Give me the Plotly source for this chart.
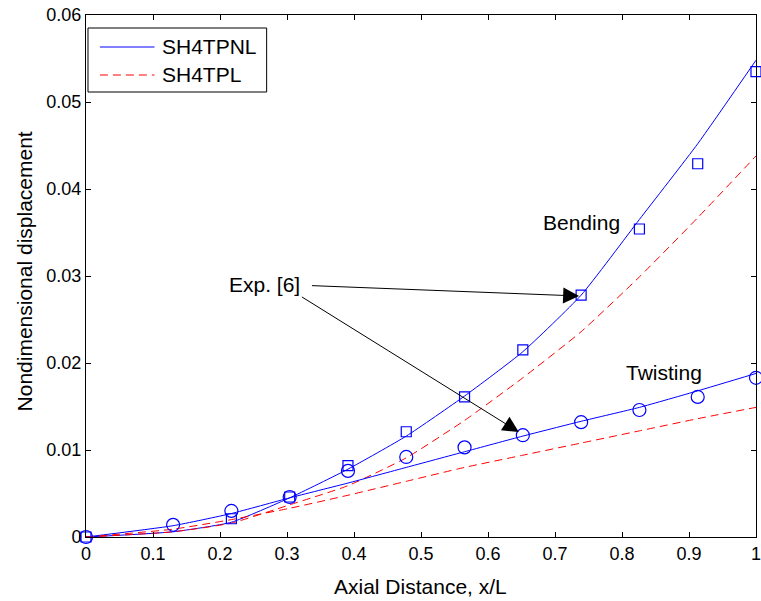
import plotly.graph_objects as go

# ---------------- data ----------------
x_line = [0, 0.13, 0.217, 0.304, 0.391, 0.478, 0.565, 0.652, 0.739, 0.826, 0.913, 1.0]
bend_nl = [0, 0.0006, 0.0017, 0.0045, 0.0078, 0.0116, 0.0162, 0.0213, 0.0278, 0.0365, 0.0452, 0.0548]
bend_l = [0, 0.0006, 0.0016, 0.0037, 0.0059, 0.0091, 0.0134, 0.0183, 0.0236, 0.0299, 0.0367, 0.0438]
twist_nl = [0, 0.0013, 0.0027, 0.0045, 0.0062, 0.0080, 0.0098, 0.0116, 0.0133, 0.0149, 0.0168, 0.0188]
twist_l = [0, 0.0009, 0.0020, 0.0033, 0.0048, 0.0064, 0.0080, 0.0094, 0.0108, 0.0122, 0.0136, 0.0149]

x_sq = [0, 0.217, 0.304, 0.391, 0.478, 0.565, 0.652, 0.739, 0.826, 0.913, 1.0]
exp_bend = [0, 0.0021, 0.0046, 0.0082, 0.0121, 0.0161, 0.0215, 0.0278, 0.0354, 0.0429, 0.0535]
x_ci = [0, 0.13, 0.217, 0.304, 0.391, 0.478, 0.565, 0.652, 0.739, 0.826, 0.913, 1.0]
exp_twist = [0, 0.0014, 0.0030, 0.0046, 0.0076, 0.0092, 0.0103, 0.0117, 0.0132, 0.0146, 0.0161, 0.0183]

x_ticks = [0, 0.1, 0.2, 0.3, 0.4, 0.5, 0.6, 0.7, 0.8, 0.9, 1]
x_tick_text = ["0", "0.1", "0.2", "0.3", "0.4", "0.5", "0.6", "0.7", "0.8", "0.9", "1"]
y_ticks = [0, 0.01, 0.02, 0.03, 0.04, 0.05, 0.06]
y_tick_text = ["0", "0.01", "0.02", "0.03", "0.04", "0.05", "0.06"]

legend_names = ["SH4TPNL", "SH4TPL"]

BLUE = "rgb(0,0,255)"
RED = "rgb(255,0,0)"
FONT = "Liberation Sans, Arial, sans-serif"
DASH = "8px,5px"
SMOOTH = dict(shape="spline", smoothing=0.5)

fig = go.Figure()
fig.add_trace(go.Scatter(x=x_line, y=bend_nl, mode="lines", line=dict(color=BLUE, width=1, **SMOOTH), showlegend=False))
fig.add_trace(go.Scatter(x=x_line, y=bend_l, mode="lines", line=dict(color=RED, width=1, dash=DASH, **SMOOTH), showlegend=False))
fig.add_trace(go.Scatter(x=x_line, y=twist_nl, mode="lines", line=dict(color=BLUE, width=1, **SMOOTH), showlegend=False))
fig.add_trace(go.Scatter(x=x_line, y=twist_l, mode="lines", line=dict(color=RED, width=1, dash=DASH, **SMOOTH), showlegend=False))
fig.add_trace(go.Scatter(x=x_sq, y=exp_bend, mode="markers",
                         marker=dict(symbol="square-open", size=10, color=BLUE, line=dict(width=1.2, color=BLUE)),
                         showlegend=False, cliponaxis=False))
fig.add_trace(go.Scatter(x=x_ci, y=exp_twist, mode="markers",
                         marker=dict(symbol="circle-open", size=13, color=BLUE, line=dict(width=1.2, color=BLUE)),
                         showlegend=False, cliponaxis=False))

W, H = 761, 601
L, R, T, B = 86, 0, 15, 64
PW, PH = W - L - R, H - T - B
X0, Y0 = L, H - B  # pixel of plot origin


def px(xp):
    return (xp - X0) / PW


def py(yp):
    return (Y0 - yp) / PH


# manual legend
shapes = [
    dict(type="rect", xref="paper", yref="paper", x0=px(88), x1=px(268), y0=py(92), y1=py(28),
         line=dict(color="black", width=1), fillcolor="white", layer="above"),
    dict(type="line", xref="paper", yref="paper", x0=px(100), x1=px(155), y0=py(47), y1=py(47),
         line=dict(color=BLUE, width=1), layer="above"),
    dict(type="line", xref="paper", yref="paper", x0=px(100), x1=px(155), y0=py(75), y1=py(75),
         line=dict(color=RED, width=1, dash=DASH), layer="above"),
]

annotations = [
    dict(xref="paper", yref="paper", x=px(161), y=py(47), text=legend_names[0], showarrow=False,
         xanchor="left", yanchor="middle", font=dict(size=21, color="black", family=FONT)),
    dict(xref="paper", yref="paper", x=px(161), y=py(75), text=legend_names[1], showarrow=False,
         xanchor="left", yanchor="middle", font=dict(size=21, color="black", family=FONT)),
    dict(x=0.739, y=0.0361, text="Bending", showarrow=False, xanchor="center", yanchor="middle",
         font=dict(size=21, color="black", family=FONT)),
    dict(x=0.862, y=0.0189, text="Twisting", showarrow=False, xanchor="center", yanchor="middle",
         font=dict(size=21, color="black", family=FONT)),
    dict(x=0.2667, y=0.0290, text="Exp. [6]", showarrow=False, xanchor="center", yanchor="middle",
         font=dict(size=21, color="black", family=FONT)),
    dict(x=0.736, y=0.0277, ax=0.335, ay=0.0289, axref="x", ayref="y", text="", showarrow=True,
         arrowhead=2, arrowsize=3.2, arrowwidth=1, arrowcolor="black", standoff=0),
    dict(x=0.646, y=0.01207, ax=0.320, ay=0.0277, axref="x", ayref="y", text="", showarrow=True,
         arrowhead=2, arrowsize=3.2, arrowwidth=1, arrowcolor="black", standoff=0),
    # axis titles
    dict(xref="paper", yref="paper", x=px(423), y=py(586), text="Axial Distance, x/L", showarrow=False,
         xanchor="center", yanchor="middle", font=dict(size=21, color="black", family=FONT)),
    dict(xref="paper", yref="paper", x=px(24), y=py(271), text="Nondimensional displacement", showarrow=False,
         xanchor="center", yanchor="middle", textangle=-90, font=dict(size=21, color="black", family=FONT)),
]

axis_common = dict(showgrid=False, zeroline=False, showline=True, linecolor="black", linewidth=1,
                   mirror="ticks", ticks="inside", ticklen=5, tickcolor="black", tickwidth=1,
                   ticklabeloverflow="allow",
                   tickfont=dict(size=18, color="black", family=FONT))

fig.update_layout(
    width=W, height=H,
    margin=dict(l=L, r=R, t=T, b=B, pad=0),
    paper_bgcolor="white", plot_bgcolor="white",
    showlegend=False,
    xaxis=dict(range=[0, 1], tickmode="array", tickvals=x_ticks, ticktext=x_tick_text, **axis_common),
    yaxis=dict(range=[0, 0.06], tickmode="array", tickvals=y_ticks, ticktext=y_tick_text, **axis_common),
    shapes=shapes,
    annotations=annotations,
)

fig.write_html(
    "out.html",
    config={"displayModeBar": False},
    post_script=(
        "document.body.style.margin='0';"
        "document.body.style.overflow='hidden';"
        "document.documentElement.style.overflow='hidden';"
    ),
)
